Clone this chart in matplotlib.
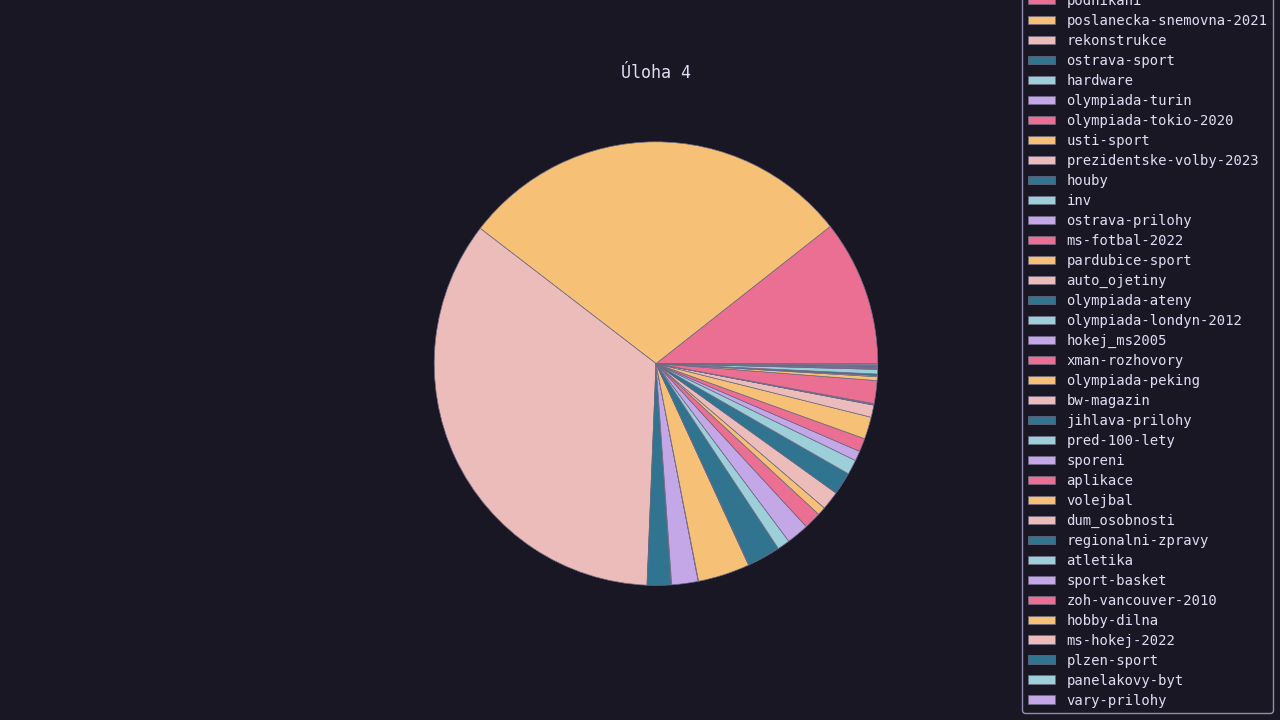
import matplotlib.pyplot as plt

# Rose Pine-like palette
BASE = "#191724"
TEXT = "#e0def4"
MUTED = "#6e6a86"
SUBTLE = "#908caa"
colors = ["#eb6f92", "#f6c177", "#ebbcba", "#31748f", "#9ccfd8", "#c4a7e7"]

categories = [
    "podnikani", "poslanecka-snemovna-2021", "rekonstrukce", "ostrava-sport",
    "hardware", "olympiada-turin", "olympiada-tokio-2020", "usti-sport",
    "prezidentske-volby-2023", "houby", "inv", "ostrava-prilohy",
    "ms-fotbal-2022", "pardubice-sport", "auto_ojetiny", "olympiada-ateny",
    "olympiada-londyn-2012", "hokej_ms2005", "xman-rozhovory", "olympiada-peking",
    "bw-magazin", "jihlava-prilohy", "pred-100-lety", "sporeni",
    "aplikace", "volejbal", "dum_osobnosti", "regionalni-zpravy",
    "atletika", "sport-basket", "zoh-vancouver-2010", "hobby-dilna",
    "ms-hokej-2022", "plzen-sport", "panelakovy-byt", "vary-prilohy",
]
counts = [
    382, 1042, 1252, 63,
    1, 69, 1, 136,
    1, 87, 33, 59,
    45, 22, 49, 59,
    39, 26, 35, 58,
    32, 1, 1, 2,
    60, 10, 3, 4,
    12, 2, 2, 2,
    2, 2, 2, 3,
]

plt.rcParams["font.family"] = ["DejaVu Sans Mono"]
plt.rcParams["text.color"] = TEXT

fig, ax = plt.subplots(figsize=(12.8, 7.2), dpi=100)
fig.patch.set_facecolor(BASE)
ax.set_facecolor(BASE)

wedge_colors = [colors[i % len(colors)] for i in range(len(counts))]
wedges, _ = ax.pie(counts, colors=wedge_colors,
                   wedgeprops={"edgecolor": MUTED, "linewidth": 0.5})
ax.set_title("Úloha 4", color=TEXT, fontsize=12)

leg = fig.legend(wedges, categories, loc="lower right", fontsize=10,
                 labelspacing=0.43, handleheight=0.55,
                 facecolor=BASE, edgecolor=SUBTLE, framealpha=1)
for t in leg.get_texts():
    t.set_color(TEXT)

fig.savefig("out.png", dpi=100, facecolor=BASE)
